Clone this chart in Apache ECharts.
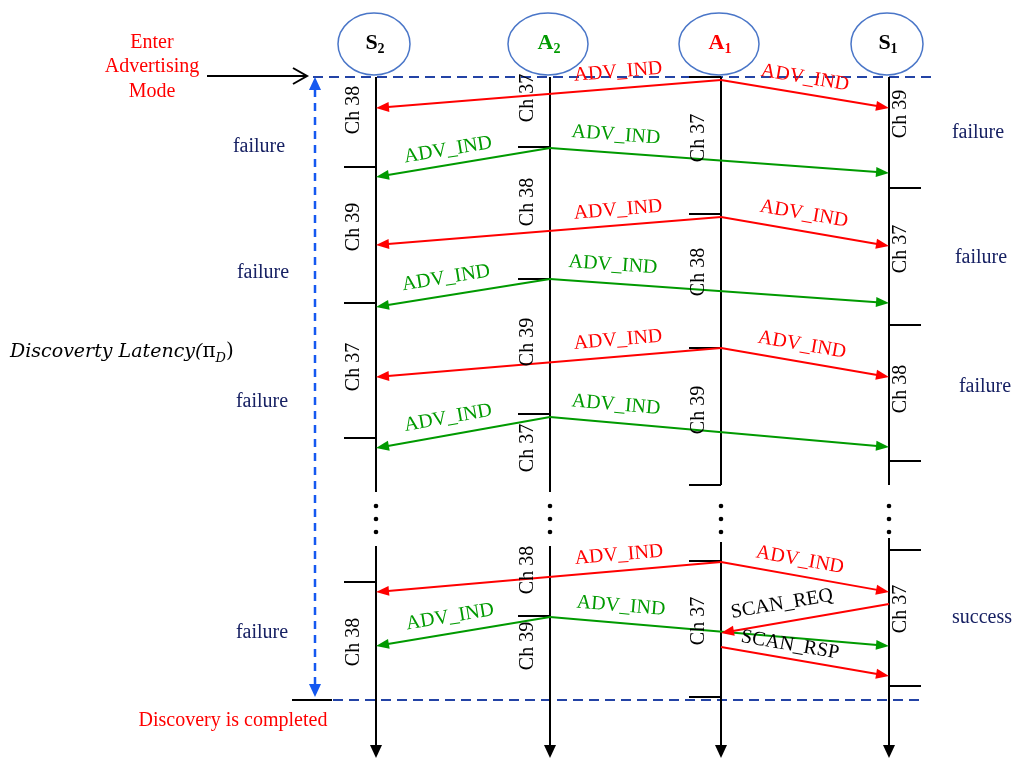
<!DOCTYPE html>
<html><head><meta charset="utf-8">
<script src="https://cdn.jsdelivr.net/npm/echarts@6/dist/echarts.min.js"></script>
<style>html,body{margin:0;padding:0;background:#fff}#c{width:1024px;height:772px}</style>
</head><body><div id="c"></div>
<script>
// ---------- data ----------
const participants = ['S2', 'A2', 'A1', 'S1'];
const participantX = [376, 550, 721, 889];
const participantName = ['S', 'A', 'A', 'S'];
const participantSub = ['2', '2', '1', '1'];
const lifelineSpan = [77, 758];
const lifelineBreak = [[492, 546], [492, 546], [485, 542], [485, 538]];
const ellipsisDots = [506, 519, 532];

const channelTicks = [
  ['S2', 167], ['S2', 303], ['S2', 438], ['S2', 582],
  ['A2', 147], ['A2', 279], ['A2', 414], ['A2', 616],
  ['A1', 77], ['A1', 214], ['A1', 348], ['A1', 485], ['A1', 561], ['A1', 697],
  ['S1', 188], ['S1', 325], ['S1', 461], ['S1', 550], ['S1', 686]
];
const channelLabels = [
  ['S2', 110, 'Ch 38'], ['S2', 227, 'Ch 39'], ['S2', 367, 'Ch 37'], ['S2', 642, 'Ch 38'],
  ['A2', 98, 'Ch 37'], ['A2', 202, 'Ch 38'], ['A2', 342, 'Ch 39'], ['A2', 448, 'Ch 37'], ['A2', 570, 'Ch 38'], ['A2', 646, 'Ch 39'],
  ['A1', 138, 'Ch 37'], ['A1', 272, 'Ch 38'], ['A1', 410, 'Ch 39'], ['A1', 621, 'Ch 37'],
  ['S1', 114, 'Ch 39'], ['S1', 249, 'Ch 37'], ['S1', 389, 'Ch 38'], ['S1', 609, 'Ch 37']
];
// [sender, receiver, yStart, yEnd, labelX, labelY, text]
const advMessages = [
  ['A1', 'S2', 80, 108, 618, 72, 'ADV_IND'],
  ['A1', 'S1', 80, 108, 805, 78, 'ADV_IND'],
  ['A2', 'S2', 148, 177, 448, 150, 'ADV_IND'],
  ['A2', 'S1', 148, 173, 616, 135, 'ADV_IND'],
  ['A1', 'S2', 217, 245, 618, 210, 'ADV_IND'],
  ['A1', 'S1', 217, 246, 804, 214, 'ADV_IND'],
  ['A2', 'S2', 279, 307, 446, 278, 'ADV_IND'],
  ['A2', 'S1', 279, 303, 613, 265, 'ADV_IND'],
  ['A1', 'S2', 348, 377, 618, 340, 'ADV_IND'],
  ['A1', 'S1', 348, 377, 802, 345, 'ADV_IND'],
  ['A2', 'S2', 417, 448, 448, 418, 'ADV_IND'],
  ['A2', 'S1', 417, 447, 616, 405, 'ADV_IND'],
  ['A1', 'S2', 562, 592, 619, 555, 'ADV_IND'],
  ['A1', 'S1', 562, 592, 800, 560, 'ADV_IND'],
  ['A2', 'S2', 617, 646, 450, 617, 'ADV_IND'],
  ['A2', 'S1', 617, 646, 621, 606, 'ADV_IND']
];
const scanMessages = [
  ['S1', 'A1', 604, 633, 782, 604, 'SCAN_REQ'],
  ['A1', 'S1', 647, 676, 790, 645, 'SCAN_RSP']
];
const outcomeLabels = [
  ['failure', 259, 147], ['failure', 263, 273], ['failure', 262, 402], ['failure', 262, 633],
  ['failure', 978, 133], ['failure', 981, 258], ['failure', 985, 387], ['success', 982, 618]
];
const phaseRules = [[313, 932, 77], [333, 922, 700]];   // [xStart, xEnd, y]
const latencyArrow = [315, 77, 697];                     // [x, yTop, yBottom]
const enterArrow = [207, 307, 76];                       // [xStart, xEnd, y]
const completedMark = [292, 332, 700];                   // [xStart, xEnd, y]
const enterText = 'Enter\nAdvertising\nMode';
const enterTextPos = [152, 67];
const completedText = 'Discovery is completed';
const completedTextPos = [233, 721];
const latencyText = ['Discoverty Latency(', 'π', 'D', ')'];
const latencyTextPos = [10, 352];

// ---------- styles ----------
const SERIF = '"Liberation Serif","Times New Roman",serif';
const RED = '#ff0000', GREEN = '#009a00', NAVY = '#172163';
const senderColor = { A1: RED, A2: GREEN, S1: RED, S2: '#000' };
const nodeColor = { S2: '#000', A2: GREEN, A1: RED, S1: '#000' };
const xOf = n => participantX[participants.indexOf(n)];

function arrowEls(p1, p2, color, head, hw, width) {
  const dx = p2[0] - p1[0], dy = p2[1] - p1[1], L = Math.hypot(dx, dy);
  const ux = dx / L, uy = dy / L;
  const b = [p2[0] - ux * head, p2[1] - uy * head];
  return [
    { type: 'line', shape: { x1: p1[0], y1: p1[1], x2: b[0] + ux, y2: b[1] + uy }, style: { stroke: color, lineWidth: width } },
    { type: 'polygon', shape: { points: [p2, [b[0] - uy * hw, b[1] + ux * hw], [b[0] + uy * hw, b[1] - ux * hw]] }, style: { fill: color } }
  ];
}
function textEl(x, y, text, fill, size, extra) {
  return Object.assign({
    type: 'text', x, y,
    style: { text, fill, fontSize: size, fontFamily: SERIF, align: 'center', verticalAlign: 'middle', textAlign: 'center', textVerticalAlign: 'middle' }
  }, extra || {});
}
function base(data, renderItem, z) {
  return { type: 'custom', coordinateSystem: 'cartesian2d', data, renderItem, silent: true, animation: false, clip: false, z };
}

// ---------- series ----------
const frame = base([[0, 0]], (params, api) => {
  const P = (x, y) => api.coord([x, y]);
  const ch = [];
  phaseRules.forEach(r => {
    const a = P(r[0], r[2]), b = P(r[1], r[2]);
    ch.push({ type: 'line', shape: { x1: a[0], y1: a[1], x2: b[0], y2: b[1] }, style: { stroke: '#2343a5', lineWidth: 2, lineDash: [10, 6] } });
  });
  const t = P(latencyArrow[0], latencyArrow[1]), bt = P(latencyArrow[0], latencyArrow[2]);
  const blue = '#1558f0';
  ch.push({ type: 'line', shape: { x1: t[0], y1: t[1] + 12, x2: bt[0], y2: bt[1] - 12 }, style: { stroke: blue, lineWidth: 2.5, lineDash: [8, 6] } });
  ch.push({ type: 'polygon', shape: { points: [t, [t[0] - 6, t[1] + 13], [t[0] + 6, t[1] + 13]] }, style: { fill: blue } });
  ch.push({ type: 'polygon', shape: { points: [bt, [bt[0] - 6, bt[1] - 13], [bt[0] + 6, bt[1] - 13]] }, style: { fill: blue } });
  const ea = P(enterArrow[0], enterArrow[2]), eb = P(enterArrow[1], enterArrow[2]);
  ch.push({ type: 'line', shape: { x1: ea[0], y1: ea[1], x2: eb[0], y2: eb[1] }, style: { stroke: '#000', lineWidth: 2 } });
  ch.push({ type: 'polyline', shape: { points: [[eb[0] - 14, eb[1] - 8], eb, [eb[0] - 14, eb[1] + 8]] }, style: { stroke: '#000', lineWidth: 2, fill: null } });
  const ca = P(completedMark[0], completedMark[2]), cb = P(completedMark[1], completedMark[2]);
  ch.push({ type: 'line', shape: { x1: ca[0], y1: ca[1], x2: cb[0], y2: cb[1] }, style: { stroke: '#000', lineWidth: 2 } });
  return { type: 'group', children: ch };
}, 1);

const lifelines = base(participants.map((p, i) => [participantX[i], lifelineSpan[0]]), (params, api) => {
  const i = params.dataIndex;
  const x = api.value(0);
  const P = y => api.coord([x, y]);
  const top = P(lifelineSpan[0]), br0 = P(lifelineBreak[i][0]), br1 = P(lifelineBreak[i][1]), tip = P(lifelineSpan[1]);
  const ch = [
    { type: 'line', shape: { x1: top[0], y1: top[1], x2: br0[0], y2: br0[1] }, style: { stroke: '#000', lineWidth: 2 } },
    ...arrowEls(br1, tip, '#000', 13, 6, 2)
  ];
  ellipsisDots.forEach(y => {
    const d = P(y);
    ch.push({ type: 'circle', shape: { cx: d[0], cy: d[1], r: 2.3 }, style: { fill: '#000' } });
  });
  return { type: 'group', children: ch };
}, 2);

const ticks = base(channelTicks.map(t => [xOf(t[0]), t[1]]), (params, api) => {
  const p = api.coord([api.value(0), api.value(1)]);
  const side = channelTicks[params.dataIndex][0] === 'S1' ? 1 : -1;
  return { type: 'line', shape: { x1: p[0], y1: p[1], x2: p[0] + side * 32, y2: p[1] }, style: { stroke: '#000', lineWidth: 2 } };
}, 2);

function messageSeries(list, textColorFn) {
  return base(list.map(m => [xOf(m[0]), m[2], xOf(m[1]), m[3]]), (params, api) => {
    const m = list[params.dataIndex];
    const p1 = api.coord([api.value(0), api.value(1)]);
    const p2 = api.coord([api.value(2), api.value(3)]);
    const lp = api.coord([m[4], m[5]]);
    const color = senderColor[m[0]];
    let dx = p2[0] - p1[0], dy = p2[1] - p1[1];
    if (dx < 0) { dx = -dx; dy = -dy; }
    const rot = -Math.atan2(dy, dx);
    return {
      type: 'group', children: [
        ...arrowEls(p1, p2, color, 13, 5, 2),
        textEl(lp[0], lp[1], m[6], textColorFn(m), 20, { rotation: rot })
      ]
    };
  }, 3);
}

const chLabels = base(channelLabels.map(c => [xOf(c[0]), c[1]]), (params, api) => {
  const c = channelLabels[params.dataIndex];
  const p = api.coord([api.value(0), api.value(1)]);
  const off = c[0] === 'S1' ? 12 : -22;
  return textEl(p[0] + off, p[1], c[2], '#000', 20, { rotation: Math.PI / 2 });
}, 4);

const nodes = base(participants.map((p, i) => [participantX[i], 44]), (params, api) => {
  const i = params.dataIndex;
  const c = api.coord([api.value(0) - 2, api.value(1)]);
  const col = nodeColor[participants[i]];
  return {
    type: 'group', children: [
      { type: 'ellipse', shape: { cx: c[0], cy: c[1], rx: participantName[i] === 'S' ? 36 : 40, ry: 31 }, style: { fill: '#fff', stroke: '#4a76c8', lineWidth: 1.5 } },
      {
        type: 'text', x: c[0] + 1, y: c[1] - 1,
        style: {
          text: '{m|' + participantName[i] + '}{s|' + participantSub[i] + '}',
          align: 'center', verticalAlign: 'middle', textAlign: 'center', textVerticalAlign: 'middle',
          rich: {
            m: { fontSize: 22, fontWeight: 'bold', fontFamily: SERIF, fill: col, lineHeight: 26 },
            s: { fontSize: 14, fontWeight: 'bold', fontFamily: SERIF, fill: col, lineHeight: 12, verticalAlign: 'bottom' }
          }
        }
      }
    ]
  };
}, 5);

const annotations = base([[0, 0]], (params, api) => {
  const P = (x, y) => api.coord([x, y]);
  const ch = [];
  outcomeLabels.forEach(o => { const p = P(o[1], o[2]); ch.push(textEl(p[0], p[1], o[0], NAVY, 20)); });
  const ep = P(enterTextPos[0], enterTextPos[1]);
  const e = textEl(ep[0], ep[1], enterText, RED, 20); e.style.lineHeight = 24.5; ch.push(e);
  const cp = P(completedTextPos[0], completedTextPos[1]);
  ch.push(textEl(cp[0], cp[1], completedText, RED, 20));
  const lp = P(latencyTextPos[0], latencyTextPos[1]);
  const LF = '"DejaVu Serif",serif';
  ch.push({
    type: 'text', x: lp[0], y: lp[1],
    style: {
      text: '{i|' + latencyText[0] + '}{p|' + latencyText[1] + '}{s|' + latencyText[2] + '}{p|' + latencyText[3] + '}',
      align: 'left', verticalAlign: 'middle', textAlign: 'left', textVerticalAlign: 'middle',
      rich: {
        i: { fontSize: 19, fontStyle: 'italic', fontFamily: LF, fill: '#000', lineHeight: 26 },
        p: { fontSize: 20, fontFamily: LF, fill: '#000', lineHeight: 26 },
        s: { fontSize: 13, fontStyle: 'italic', fontFamily: LF, fill: '#000', lineHeight: 12, verticalAlign: 'bottom' }
      }
    }
  });
  return { type: 'group', children: ch };
}, 6);

const chart = echarts.init(document.getElementById('c'));
chart.setOption({
  animation: false,
  backgroundColor: '#fff',
  grid: { left: 0, right: 0, top: 0, bottom: 0 },
  xAxis: { type: 'value', min: 0, max: 1024, show: false },
  yAxis: { type: 'value', min: 0, max: 772, inverse: true, show: false },
  series: [
    frame, lifelines, ticks,
    messageSeries(advMessages, m => senderColor[m[0]]),
    messageSeries(scanMessages, () => '#000'),
    chLabels, nodes, annotations
  ]
});
</script>
</body></html>
